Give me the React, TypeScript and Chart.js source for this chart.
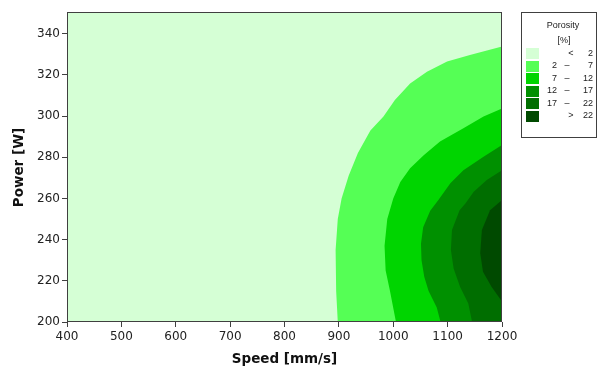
import React, { useEffect, useRef } from 'react';
import { Chart, registerables } from 'chart.js';

Chart.register(...registerables);

// Axes
const speedTicks = [400, 500, 600, 700, 800, 900, 1000, 1100, 1200];
const powerTicks = [200, 220, 240, 260, 280, 300, 320, 340];
const speedMin = 400;
const speedMax = 1200;
const powerMin = 200;
const powerMax = 350;

// Porosity levels (legend)
const levelColors = ['#d5ffd5', '#55ff55', '#00d500', '#009000', '#006e00', '#004a00'];
const levelLow = ['', '2', '7', '12', '17', ''];
const levelSym = ['<', '–', '–', '–', '–', '>'];
const levelHigh = ['2', '7', '12', '17', '22', '22'];

// Contour boundaries (region above each threshold), speed [mm/s] / power [W]
const c2Speed = [1200, 1141, 1099, 1062, 1031, 1003, 982, 958, 935, 918, 905, 898, 894, 895, 898, 1200];
const c2Power = [333.7, 329.6, 326.4, 321.5, 315.8, 307.8, 299.7, 293, 282, 271, 260, 250, 235, 215, 200, 200];

const c7Speed = [1200, 1166, 1129, 1086, 1056, 1031, 1013, 1000, 989, 984, 986, 994, 1005, 1200];
const c7Power = [303.7, 299.7, 294, 287.6, 281, 274.6, 268, 260, 250, 237, 225, 215, 200, 200];

const c12Speed = [1200, 1166, 1129, 1105, 1083, 1068, 1055, 1051, 1052, 1057, 1065, 1080, 1087, 1200];
const c12Power = [285.9, 280.2, 273.7, 267.3, 259.2, 254, 246, 238, 230, 222, 215, 207, 200, 200];

const c17Speed = [1200, 1172, 1148, 1133, 1122, 1108, 1106, 1111, 1123, 1138, 1145, 1200];
const c17Power = [273.7, 268.9, 263.2, 257.6, 254.3, 244.6, 235, 226, 217, 209, 200, 200];

const c22Speed = [1200, 1178, 1163, 1160, 1165, 1181, 1200];
const c22Power = [259.2, 254.3, 244.6, 233.4, 224.4, 217, 210];

const contourSpeeds = [c2Speed, c7Speed, c12Speed, c17Speed, c22Speed];
const contourPowers = [c2Power, c7Power, c12Power, c17Power, c22Power];

export default function App() {
  const ref = useRef<HTMLCanvasElement>(null);

  useEffect(() => {
    const canvas = ref.current;
    if (!canvas) return;

    const datasets = contourSpeeds.map((sp, i) => ({
      label: levelLow[i + 1] + ' ' + levelSym[i + 1] + ' ' + levelHigh[i + 1],
      data: sp.map((s, j) => ({ x: s, y: contourPowers[i][j] })),
      showLine: true,
      fill: 'shape',
      backgroundColor: levelColors[i + 1],
      borderColor: levelColors[i + 1],
      borderWidth: 0,
      pointRadius: 0,
      pointHoverRadius: 0,
      tension: 0,
      order: contourSpeeds.length - i,
    }));

    const bgPlugin = {
      id: 'plotBg',
      beforeDatasetsDraw(chart: any) {
        const { ctx, chartArea: a } = chart;
        ctx.save();
        ctx.fillStyle = levelColors[0];
        ctx.fillRect(a.left, a.top, a.right - a.left, a.bottom - a.top);
        ctx.restore();
      },
      afterDatasetsDraw(chart: any) {
        const { ctx, chartArea: a } = chart;
        ctx.save();
        ctx.strokeStyle = '#404040';
        ctx.lineWidth = 1;
        ctx.strokeRect(a.left + 0.5, a.top - 0.5, a.right - a.left - 1, a.bottom - a.top);
        ctx.restore();
      },
    };

    const legendPlugin = {
      id: 'porosityLegend',
      afterDraw(chart: any) {
        const ctx = chart.ctx;
        ctx.save();
        ctx.strokeStyle = '#404040';
        ctx.lineWidth = 1;
        ctx.strokeRect(521.5, 12.5, 75, 125);
        ctx.fillStyle = '#222';
        ctx.font = '9px "Liberation Sans"';
        ctx.textBaseline = 'middle';
        ctx.textAlign = 'center';
        ctx.fillText('Porosity', 563, 26);
        ctx.fillText('[%]', 564, 41);
        for (let i = 0; i < levelColors.length; i++) {
          const cy = 53.5 + i * 12.5;
          ctx.fillStyle = levelColors[i];
          ctx.fillRect(526, Math.round(cy - 5.5), 13, 11);
          ctx.fillStyle = '#222';
          ctx.textAlign = 'right';
          if (levelLow[i]) ctx.fillText(levelLow[i], 557, cy);
          ctx.textAlign = 'center';
          ctx.fillText(levelSym[i], levelSym[i] === '–' ? 567 : 571, cy);
          ctx.textAlign = 'right';
          ctx.fillText(levelHigh[i], 593, cy);
        }
        ctx.restore();
      },
    };

    const tickFont = { family: 'DejaVu Sans', size: 12 };
    const titleFont = { family: 'DejaVu Sans', size: 13.5, weight: 'bold' as const };

    const chart = new Chart(canvas, {
      type: 'scatter',
      data: { datasets: datasets as any },
      options: {
        animation: false,
        responsive: false,
        devicePixelRatio: 1,
        layout: { padding: { top: 13, right: 99, left: 0, bottom: 0 } },
        plugins: { legend: { display: false }, tooltip: { enabled: false } },
        events: [],
        scales: {
          x: {
            type: 'linear',
            min: speedMin,
            max: speedMax,
            afterBuildTicks: (s: any) => {
              s.ticks = speedTicks.map((v) => ({ value: v }));
            },
            afterFit: (s: any) => {
              s.height = 45;
            },
            ticks: {
              color: '#222',
              font: tickFont,
              padding: 3,
              maxRotation: 0,
              autoSkip: false,
              callback: (v: any) => String(v),
            },
            grid: { drawOnChartArea: false, drawTicks: true, tickLength: 5, color: '#404040' },
            border: { display: false },
            title: {
              display: true,
              text: 'Speed [mm/s]',
              color: '#111',
              font: titleFont,
              padding: { top: 0, bottom: -1 },
            },
          },
          y: {
            type: 'linear',
            min: powerMin,
            max: powerMax,
            afterBuildTicks: (s: any) => {
              s.ticks = powerTicks.map((v) => ({ value: v }));
            },
            afterFit: (s: any) => {
              s.width = 67;
            },
            ticks: {
              color: '#222',
              font: tickFont,
              padding: 2,
              autoSkip: false,
              callback: (v: any) => String(v),
            },
            grid: { drawOnChartArea: false, drawTicks: true, tickLength: 5, color: '#404040' },
            border: { display: false },
            title: {
              display: true,
              text: 'Power [W]',
              color: '#111',
              font: titleFont,
              padding: { top: 11, bottom: 0 },
            },
          },
        },
      } as any,
      plugins: [bgPlugin, legendPlugin],
    });

    return () => chart.destroy();
  }, []);

  return (
    <div style={{ position: 'absolute', left: 0, top: 0, width: 601, height: 367 }}>
      <canvas ref={ref} width={601} height={367} style={{ display: 'block' }} />
    </div>
  );
}
